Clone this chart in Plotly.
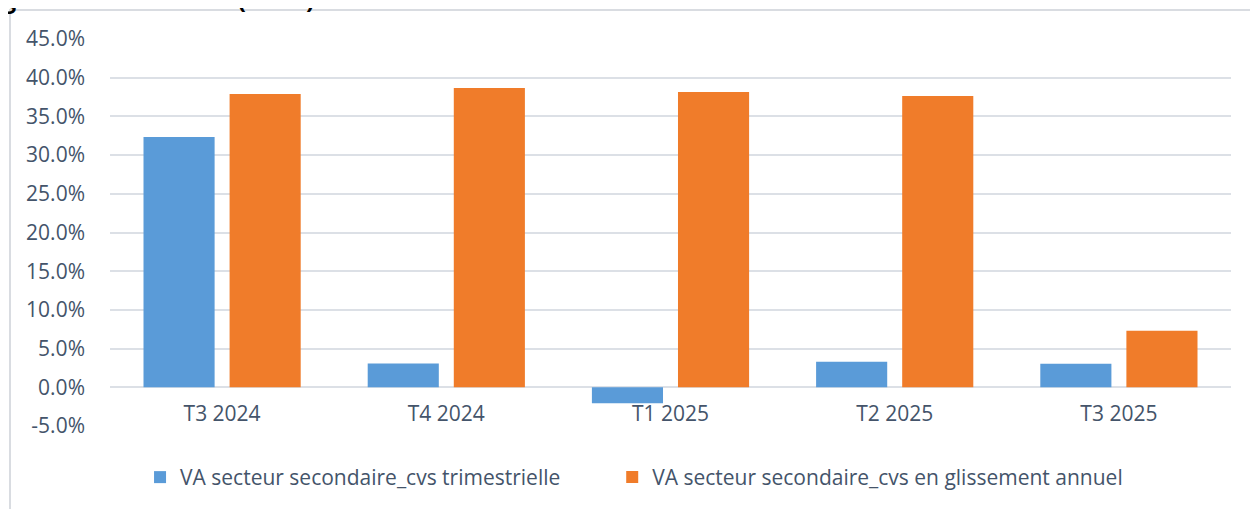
import plotly.graph_objects as go

# trimestres
categories = ["T3 2024", "T4 2024", "T1 2025", "T2 2025", "T3 2025"]
# VA secteur secondaire (en %)
va_trimestrielle = [32.35, 3.06, -2.06, 3.31, 3.05]
va_glissement = [37.9, 38.67, 38.15, 37.63, 7.31]
y_ticks = [-5, 0, 5, 10, 15, 20, 25, 30, 35, 40, 45]

TEXT = "#44546A"
GRID = "#DCE0E6"
FONT = "Open Sans"

fig = go.Figure()
fig.add_trace(go.Bar(
    name="VA secteur secondaire_cvs trimestrielle",
    x=categories, y=va_trimestrielle,
    marker=dict(color="#5A9BD8", line=dict(width=0)),
    legend="legend",
))
fig.add_trace(go.Bar(
    name="VA secteur secondaire_cvs en glissement annuel",
    x=categories, y=va_glissement,
    marker=dict(color="#F07C2A", line=dict(width=0)),
    legend="legend2",
))

# the page body adds 8px around the figure, margins allow for it
legend_style = dict(
    orientation="h", y=-0.133, yanchor="middle", xanchor="left",
    font=dict(size=21, color=TEXT), bgcolor="rgba(0,0,0,0)",
)

fig.update_layout(
    width=1258, height=509,
    margin=dict(l=102, r=35, t=31, b=90.5, autoexpand=False),
    paper_bgcolor="white", plot_bgcolor="white",
    font=dict(family=FONT, size=21, color=TEXT),
    barmode="group", bargap=0.232, bargroupgap=0.174,
    showlegend=True,
    legend=dict(x=0.0268, **legend_style),
    legend2=dict(x=0.448, **legend_style),
    xaxis=dict(
        showgrid=False, showline=False, ticks="", automargin=False,
        ticklabelstandoff=-27,
        tickfont=dict(size=21, color=TEXT),
    ),
    yaxis=dict(
        range=[-5, 45], tickvals=y_ticks, automargin=False,
        ticktext=[f"{v:.1f}%" for v in y_ticks],
        showgrid=True, gridcolor=GRID, gridwidth=2,
        zeroline=True, zerolinecolor=GRID, zerolinewidth=2,
        ticks="", ticklabelstandoff=24,
        tickfont=dict(size=21, color=TEXT),
    ),
    shapes=[dict(
        type="rect", xref="paper", yref="paper",
        x0=-0.0892, x1=1.05, y0=-0.3, y1=1.0748,
        line=dict(color="#D9DCE1", width=2), fillcolor="rgba(0,0,0,0)",
        layer="below",
    )],
    annotations=[dict(
        text="<b>glissement annuel (en %)</b>",
        xref="paper", yref="paper", x=-0.098, xanchor="left",
        y=1.056, yanchor="bottom", showarrow=False,
        font=dict(family=FONT, size=25, color="black"),
    )],
)

fig.write_html("out.html")
